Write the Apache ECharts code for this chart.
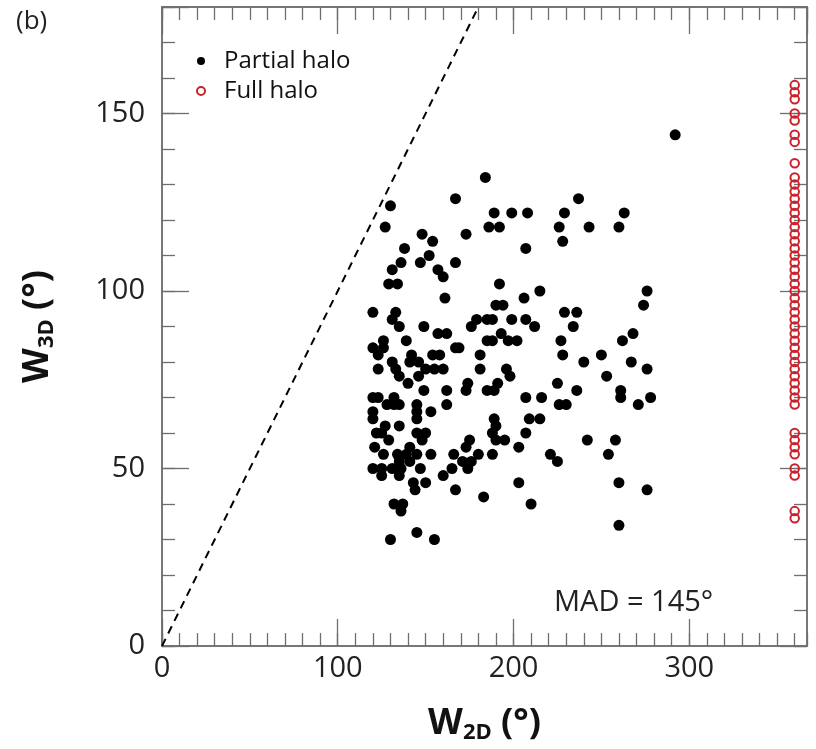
<!DOCTYPE html>
<html>
<head>
<meta charset="utf-8">
<script src="https://cdn.jsdelivr.net/npm/echarts@6/dist/echarts.min.js"></script>
<style>
html,body{margin:0;padding:0;background:#fff;}
#chart{width:816px;height:749px;}
</style>
</head>
<body>
<div id="chart"></div>
<script>
// ---- data ----
const partialW2D = [184,167,130,189,199,208,229,127,186,192,226,148,173,154,228,207,138,152,136,147,167,131,157,160,129,134,192,215,161,206,120,133,190,194,229,131,179,185,188,199,207,135,149,176,212,157,162,193,126,139,185,188,197,202,227,120,126,167,169,123,142,154,158,181,228,131,141,146,123,133,150,155,160,181,196,135,146,198,140,174,191,225,149,162,173,185,189,120,123,132,207,216,128,132,135,145,162,226,230,120,145,153,120,145,189,209,215,127,135,190,122,125,145,150,188,207,129,148,175,190,195,121,141,173,203,126,134,139,145,153,166,180,188,221,135,141,171,176,225,120,125,131,136,147,165,174,125,135,160,143,150,203,144,167,183,132,137,210,136,145,130,155,292,237,263,243,260,276,274,236,234,268,262,250,240,267,276,253,236,261,261,278,271,242,258,254,260,276,260];
const partialW3D = [132,126,124,122,122,122,122,118,118,118,118,116,116,114,114,112,112,110,108,108,108,106,106,104,102,102,102,100,98,98,94,94,96,96,94,92,92,92,92,92,92,90,90,90,90,88,88,88,86,86,86,86,86,86,86,84,84,84,84,82,82,82,82,82,82,80,80,80,78,78,78,78,78,78,78,76,76,76,74,74,74,74,72,72,72,72,72,70,70,70,70,70,68,68,68,68,68,68,68,66,66,66,64,64,64,64,64,62,62,62,60,60,60,60,60,60,58,58,58,58,58,56,56,56,56,54,54,54,54,54,54,54,54,54,52,52,52,52,52,50,50,50,50,50,50,50,48,48,48,46,46,46,44,44,42,40,40,40,38,32,30,30,144,126,122,118,118,100,96,94,90,88,86,82,80,80,78,76,72,72,70,70,68,58,58,54,46,44,34];
const fullW3D = [158,156,154,150,148,144,142,136,132,130,128,126,124,122,120,118,116,114,112,110,108,106,104,102,100,98,96,94,92,90,88,86,84,82,80,78,76,74,72,70,68,60,58,56,54,50,48,38,36];
const fullW2DValue = 360;
const oneToOneLine = [[0,0],[180,180]];
const xTickLabels = [0,100,200,300];
const yTickLabels = [0,50,100,150];
const seriesNames = ['Partial halo','Full halo'];
const annotation = 'MAD = 145°';
const panelLabel = '(b)';

// ---- build ----
const partialData = partialW2D.map((x,i)=>[x, partialW3D[i]]);
const fullData = fullW3D.map(y=>[fullW2DValue, y]);

const FONT = "'Open Sans', 'Noto Sans', sans-serif";
const AX = '#6e6e6e';
const XMAX = 367, YMAX = 180;

function xAx(pos, interval, len, labels){
  return {
    type:'value', position:pos, min:0, max:XMAX, interval:interval,
    axisLine:{show:true, onZero:false, lineStyle:{color:AX, width:1.5}},
    axisTick:{show:true, inside:true, length:len, lineStyle:{color:AX, width:1.3}},
    axisLabel:{show:labels, margin:8, fontSize:29, fontFamily:FONT, color:'#222',
      showMaxLabel:false,
      formatter:v=> xTickLabels.indexOf(v)>=0 ? String(v) : ''},
    splitLine:{show:false}
  };
}
function yAx(pos, interval, len, labels){
  return {
    type:'value', position:pos, min:0, max:YMAX, interval:interval,
    axisLine:{show:true, onZero:false, lineStyle:{color:AX, width:1.5}},
    axisTick:{show:true, inside:true, length:len, lineStyle:{color:AX, width:1.3}},
    axisLabel:{show:labels, margin:17, fontSize:29, fontFamily:FONT, color:'#222',
      formatter:v=> yTickLabels.indexOf(v)>=0 ? String(v) : ''},
    splitLine:{show:false}
  };
}

const xMain = xAx('bottom',100,27,true);
xMain.name = '{w|W}{s|2D}{w| (°)}';
xMain.nameLocation = 'middle';
xMain.nameGap = 58;
xMain.nameTextStyle = {rich:{
  w:{fontSize:36, fontWeight:'bold', fontFamily:FONT, color:'#111', lineHeight:40},
  s:{fontSize:22, fontWeight:'bold', fontFamily:FONT, color:'#111', lineHeight:14, verticalAlign:'bottom'}
}};
const yMain = yAx('left',50,27,true);
yMain.name = '{w|W}{s|3D}{w| (°)}';
yMain.nameLocation = 'middle';
yMain.nameGap = 104;
yMain.nameRotate = 90;
yMain.nameTextStyle = {rich:{
  w:{fontSize:36, fontWeight:'bold', fontFamily:FONT, color:'#111', lineHeight:40},
  s:{fontSize:22, fontWeight:'bold', fontFamily:FONT, color:'#111', lineHeight:14, verticalAlign:'bottom'}
}};

const option = {
  backgroundColor:'#fff',
  animation:false,
  title:{text:panelLabel, left:11, top:4, textStyle:{fontSize:26, fontWeight:'normal', fontFamily:FONT, color:'#222'}},
  grid:{left:162, right:9, top:7, bottom:91, containLabel:false},
  xAxis:[ xMain, xAx('bottom',10,13,false), xAx('top',100,27,false), xAx('top',10,13,false) ],
  yAxis:[ yMain, yAx('left',10,13,false), yAx('right',50,27,false), yAx('right',10,13,false) ],
  legend:{
    data:seriesNames, orient:'vertical', left:191, top:44,
    itemWidth:36, itemHeight:8, itemGap:6,
    textStyle:{fontSize:24, fontFamily:FONT, color:'#111', lineHeight:24}
  },
  graphic:[{
    type:'text', left:554, top:588,
    style:{text:annotation, fontSize:29, fontFamily:FONT, fill:'#222'}
  }],
  series:[
    {name:'1:1', type:'line', data:oneToOneLine, xAxisIndex:0, yAxisIndex:0,
     symbol:'none', lineStyle:{color:'#000', width:2, type:[8,6]}, z:1, silent:true},
    {name:seriesNames[0], type:'scatter', data:partialData, xAxisIndex:0, yAxisIndex:0,
     symbol:'circle', symbolSize:11, itemStyle:{color:'#000', opacity:1}, z:3},
    {name:seriesNames[1], type:'scatter', data:fullData, xAxisIndex:0, yAxisIndex:0,
     symbol:'circle', symbolSize:8.5, itemStyle:{color:'rgba(255,255,255,0)', borderColor:'#c8232c', borderWidth:2, opacity:1}, z:3}
  ]
};
const chart = echarts.init(document.getElementById('chart'), null, {renderer:'canvas'});
chart.setOption(option);
</script>
</body>
</html>
